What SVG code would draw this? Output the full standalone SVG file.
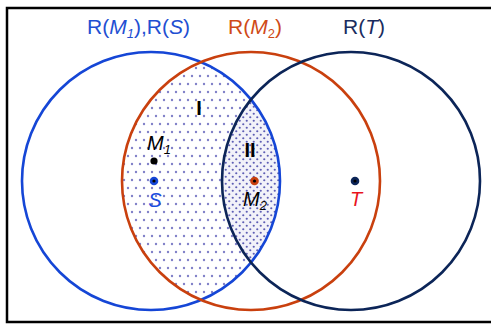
<svg xmlns="http://www.w3.org/2000/svg" width="491" height="324" viewBox="0 0 491 324">
<style>
text{font-family:"Liberation Sans",Arial,sans-serif;font-size:20px}
.hdr{font-size:21px}
.it{font-style:italic}
.sub{font-size:13px}
.ring{fill:none;stroke-width:2.6}
.bold{font-weight:bold}
</style>
<defs>
<pattern id="sparse" width="16" height="16" patternUnits="userSpaceOnUse">
<circle cx="4" cy="4" r="1.2" fill="#8080c8"/>
<circle cx="12" cy="4" r="1.2" fill="#8080c8"/>
<circle cx="0" cy="12" r="1.2" fill="#8080c8"/>
<circle cx="8" cy="12" r="1.2" fill="#8080c8"/>
<circle cx="16" cy="12" r="1.2" fill="#8080c8"/>
</pattern>
<pattern id="dense" width="7" height="7" patternUnits="userSpaceOnUse">
<rect width="7" height="7" fill="#f2f2f9"/>
<circle cx="1.75" cy="1.75" r="1.1" fill="#5e5eb4"/>
<circle cx="5.25" cy="5.25" r="1.1" fill="#5e5eb4"/>
</pattern>
<clipPath id="clipRed"><circle cx="251" cy="181" r="129"/></clipPath>
<clipPath id="clipBlue"><circle cx="151" cy="181" r="129"/></clipPath>
</defs>
<rect x="7" y="8" width="490" height="314" fill="#fff" stroke="#000" stroke-width="2.5"/>
<g id="shading">
<circle cx="151" cy="181" r="129" fill="url(#sparse)" clip-path="url(#clipRed)"/>
<circle cx="351" cy="181" r="129" fill="url(#dense)" clip-path="url(#clipBlue)"/>
</g>
<g id="circleRS"><circle class="ring" cx="151" cy="181" r="129" stroke="#1546d6"/></g>
<g id="circleM2"><circle class="ring" cx="251" cy="181" r="129" stroke="#c9400e"/></g>
<g id="circleT"><circle class="ring" cx="351" cy="181" r="129" stroke="#0c2558"/></g>
<g id="labels">
<text class="hdr" x="87" y="34" fill="#1f4fd2">R(<tspan class="it">M</tspan><tspan class="sub it" dy="4">1</tspan><tspan dy="-4">),R(</tspan><tspan class="it">S</tspan>)</text>
<text class="hdr" x="228" y="34" fill="#cf4a18">R(<tspan class="it">M</tspan><tspan class="sub" dy="4">2</tspan><tspan dy="-4">)</tspan></text>
<text class="hdr" x="343" y="34" fill="#1a2c5e">R(<tspan class="it">T</tspan>)</text>
<text class="bold" x="199" y="115" text-anchor="middle" fill="#000">I</text>
<text class="bold" x="250" y="157" text-anchor="middle" fill="#000">II</text>
</g>
<g id="nodeM1">
<circle cx="154" cy="161" r="3.6" fill="#000"/>
<text class="it" x="147" y="150" fill="#000">M<tspan class="sub" dy="4">1</tspan></text>
</g>
<g id="nodeS">
<circle cx="154" cy="181" r="4.3" fill="#1546d6"/>
<circle cx="154" cy="181" r="1.6" fill="#000"/>
<text class="it" x="155" y="207" text-anchor="middle" fill="#1a4ee0">S</text>
</g>
<g id="nodeM2">
<circle cx="254.5" cy="181" r="4.3" fill="#c9400e"/>
<circle cx="254.5" cy="181" r="1.6" fill="#000"/>
<text class="it" x="243" y="206" fill="#000">M<tspan class="sub" dy="4">2</tspan></text>
</g>
<g id="nodeT">
<circle cx="355" cy="181" r="4.3" fill="#0c2558"/>
<circle cx="355" cy="181" r="1.6" fill="#000"/>
<text class="it" x="356" y="206" text-anchor="middle" fill="#e8141e">T</text>
</g>
</svg>
